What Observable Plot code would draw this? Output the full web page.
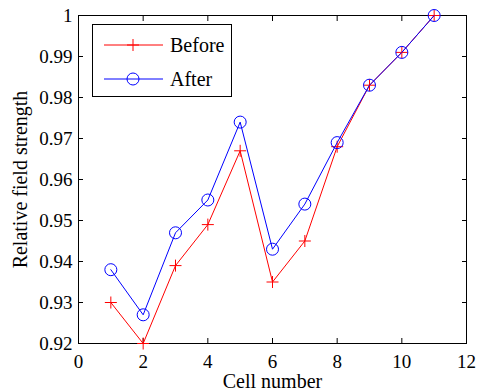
<!DOCTYPE html>
<html><head><meta charset="utf-8">
<script src="https://cdn.jsdelivr.net/npm/d3@7"></script>
<script src="https://cdn.jsdelivr.net/npm/@observablehq/plot@0.6"></script>
<style>
body{margin:0;background:#fff;}
#wrap{position:relative;width:477px;height:390px;font-family:"Liberation Serif","Times New Roman",serif;}
#legend{position:absolute;left:92px;top:24px;width:140px;height:73px;border:1px solid #000;background:#fff;box-sizing:border-box;}
#legend svg{position:absolute;left:0;top:0;}
</style></head>
<body><div id="wrap"><div id="chart"></div><div id="legend"></div></div>
<script>
const cells = [1,2,3,4,5,6,7,8,9,10,11];
const before = [0.930,0.920,0.939,0.949,0.967,0.935,0.945,0.968,0.983,0.991,1.000];
const after  = [0.938,0.927,0.947,0.955,0.974,0.943,0.954,0.969,0.983,0.991,1.000];
const seriesNames = ["Before","After"];
const xTicks = [0,2,4,6,8,10,12];
const yTicks = [0.92,0.93,0.94,0.95,0.96,0.97,0.98,0.99,1];
const xLabel = "Cell number";
const yLabel = "Relative field strength";

const dataB = cells.map((c,i)=>({cell:c, v:before[i]}));
const dataA = cells.map((c,i)=>({cell:c, v:after[i]}));

const plus = {draw(ctx, size){const r=Math.sqrt(size/Math.PI); ctx.moveTo(-r,0); ctx.lineTo(r,0); ctx.moveTo(0,-r); ctx.lineTo(0,r);}};
const yFmt = d => d === 1 ? "1" : d.toFixed(2);
const FF = '"Liberation Serif","Times New Roman",serif';

const chart = Plot.plot({
  width: 477, height: 390,
  marginLeft: 78, marginRight: 11, marginTop: 15, marginBottom: 47,
  style: {fontFamily: FF, fontSize: "19px", color: "#000", background: "#fff"},
  x: {domain: [0,12]},
  y: {domain: [0.92,1]},
  marks: [
    Plot.axisX({ticks: xTicks, tickSize: -5, tickPadding: 16, fontSize: 19, label: null}),
    Plot.axisX({anchor: "top", ticks: xTicks, tickSize: -5, tickFormat: () => "", label: null}),
    Plot.axisY({ticks: yTicks, tickSize: -5, tickPadding: 11, fontSize: 19, tickFormat: yFmt, label: null}),
    Plot.axisY({anchor: "right", ticks: yTicks, tickSize: -5, tickFormat: () => "", label: null}),
    Plot.text([xLabel], {frameAnchor: "bottom", dy: 38, text: d => d, fontSize: 20, textAnchor: "middle", lineAnchor: "middle", fill: "#000"}),
    Plot.text([yLabel], {frameAnchor: "left", dx: -58, rotate: -90, text: d => d, fontSize: 20, textAnchor: "middle", lineAnchor: "middle", fill: "#000"}),
    Plot.frame({stroke: "#000"}),
    Plot.line(dataB, {x: "cell", y: "v", stroke: "#ff0000", strokeWidth: 1}),
    Plot.dot(dataB, {x: "cell", y: "v", symbol: plus, r: 6, stroke: "#ff0000", fill: "none", strokeWidth: 1}),
    Plot.line(dataA, {x: "cell", y: "v", stroke: "#0000ff", strokeWidth: 1}),
    Plot.dot(dataA, {x: "cell", y: "v", symbol: "circle", r: 6, stroke: "#0000ff", fill: "none", strokeWidth: 1})
  ]
});
document.getElementById("chart").append(chart);

// legend
const lg = d3.select("#legend").append("svg").attr("width",140).attr("height",73);
const colors = ["#ff0000","#0000ff"];
seriesNames.forEach((name,i)=>{
  const y = 20 + i*34;
  lg.append("line").attr("x1",11).attr("x2",70).attr("y1",y).attr("y2",y).attr("stroke",colors[i]);
  if(i===0){
    lg.append("path").attr("d",`M34,${y}h12M40,${y-6}v12`).attr("stroke",colors[i]).attr("fill","none");
  } else {
    lg.append("circle").attr("cx",40).attr("cy",y).attr("r",6).attr("stroke",colors[i]).attr("fill","none");
  }
  lg.append("text").attr("x",77).attr("y",y).attr("dy","0.35em").attr("font-size","20px").attr("font-family",FF).text(name);
});
</script></body></html>
